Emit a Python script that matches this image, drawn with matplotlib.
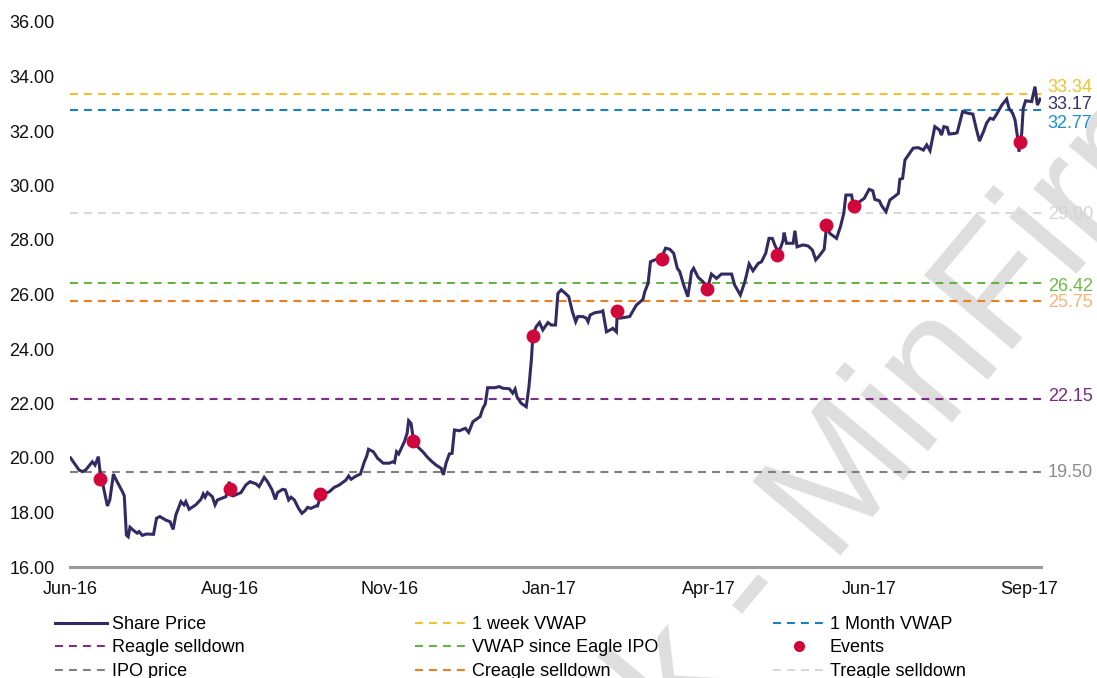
import matplotlib
matplotlib.use("Agg")
import matplotlib.pyplot as plt
from matplotlib.lines import Line2D

plt.rcParams["font.family"] = ["Liberation Sans", "DejaVu Sans"]

# share price, x = trading day index from the start of Jun-16
price_day = [0.2, 3.0, 4.1, 5.2, 7.4, 8.3, 9.4, 9.9, 10.7, 12.4, 13.2, 14.4, 15.2, 17.4, 18.0,
             18.7, 19.3, 19.9, 21.2, 22.3, 22.9, 24.0, 25.3, 27.7, 28.7, 29.8, 31.8, 33.2, 34.2,
             35.1, 36.8, 37.8, 38.4, 39.5, 41.7, 43.4, 44.2, 44.8, 45.6, 47.2, 48.1, 48.9, 51.7,
             52.8, 53.4, 54.1, 56.7, 58.3, 59.7, 61.7, 62.7, 64.4, 65.5, 67.0, 68.1, 68.8, 70.5,
             71.4, 72.5, 73.3, 74.4, 75.8, 76.9, 78.0, 78.8, 79.9, 81.6, 82.1, 82.7, 84.3, 86.0,
             87.6, 89.3, 91.5, 92.4, 93.2, 94.9, 96.3, 97.6, 98.4, 99.0, 100.6, 102.0, 103.9,
             105.9, 107.0, 107.6, 108.3, 109.0, 110.9, 111.8, 112.3, 113.1, 113.9, 115.3, 117.0,
             118.6, 120.1, 121.4, 123.1, 123.8, 124.7, 125.8, 126.7, 127.5, 129.1, 131.1, 132.2,
             133.6, 135.2, 136.0, 136.9, 137.7, 138.5, 140.8, 142.4, 143.5, 145.7, 146.8, 147.6,
             148.2, 149.6, 151.3, 152.2, 153.0, 153.5, 154.6, 155.7, 156.8, 158.5, 159.6, 161.0,
             161.8, 162.9, 164.3, 165.4, 166.6, 167.7, 168.4, 170.1, 171.2, 171.8, 172.5, 174.0,
             176.2, 176.7, 177.9, 179.5, 180.0, 181.2, 181.4, 182.3, 185.6, 187.8, 190.0, 190.6,
             191.7, 192.5, 193.9, 196.1, 197.5, 198.9, 200.2, 201.4, 202.2, 203.5, 204.9, 206.1,
             206.8, 208.3, 209.9, 211.4, 212.7, 214.4, 216.0, 219.4, 220.4, 222.3, 223.8, 225.2,
             226.5, 228.2, 229.3, 230.7, 231.8, 232.9, 233.7, 234.5, 235.6, 236.5, 236.8, 237.6,
             239.8, 240.4, 241.1, 243.1, 244.8, 246.2, 247.3, 248.7, 250.1, 250.9, 252.0, 254.2,
             255.5, 256.6, 257.3, 259.2, 259.7, 261.9, 263.4, 265.0, 266.2, 266.9, 268.4, 269.2,
             270.6, 271.9, 273.6, 274.7, 275.2, 276.1, 276.9, 278.3, 279.6, 281.3, 283.0, 284.1,
             285.2, 286.8, 288.3, 289.0, 289.8, 290.9, 291.5, 293.5, 294.2, 296.0, 297.9, 299.4,
             300.5, 301.6, 302.9, 304.0, 305.1, 306.2, 307.3, 309.0, 310.6, 311.4, 312.6, 313.4,
             314.2, 314.7, 315.6, 316.1, 316.9, 318.9, 320.0, 320.8, 321.7]
price = [20.00, 19.56, 19.50, 19.56, 19.86, 19.74, 20.05, 19.56, 19.13, 18.24, 18.46, 19.41, 19.22,
         18.76, 18.61, 17.17, 17.11, 17.46, 17.33, 17.24, 17.30, 17.16, 17.21, 17.20, 17.79, 17.85,
         17.72, 17.66, 17.38, 17.91, 18.40, 18.28, 18.40, 18.12, 18.28, 18.48, 18.68, 18.56, 18.73,
         18.58, 18.28, 18.46, 18.58, 19.13, 18.64, 18.61, 18.73, 19.01, 19.13, 19.05, 18.95, 19.29,
         19.13, 18.83, 18.48, 18.73, 18.85, 18.83, 18.46, 18.56, 18.46, 18.15, 17.97, 18.07, 18.19,
         18.15, 18.24, 18.24, 18.46, 18.70, 18.76, 18.92, 19.01, 19.19, 19.34, 19.22, 19.34, 19.41,
         19.86, 20.07, 20.32, 20.23, 19.99, 19.81, 19.81, 19.86, 19.83, 20.23, 20.15, 20.60, 20.91,
         21.37, 21.27, 20.66, 20.41, 20.23, 20.02, 19.86, 19.74, 19.62, 19.38, 19.81, 20.15, 20.17,
         21.03, 21.00, 21.09, 20.94, 21.33, 21.46, 21.52, 21.82, 21.98, 22.58, 22.58, 22.62, 22.56,
         22.54, 22.38, 22.53, 22.25, 22.01, 21.88, 22.62, 23.60, 24.51, 24.82, 24.97, 24.70, 24.97,
         24.88, 24.88, 26.04, 26.17, 26.04, 25.92, 25.37, 25.00, 25.19, 25.19, 25.13, 25.00, 25.25,
         25.33, 25.37, 25.40, 24.63, 24.72, 24.76, 24.63, 25.19, 25.13, 25.19, 25.61, 25.82, 26.10,
         26.41, 27.20, 27.27, 27.33, 27.70, 27.66, 27.51, 26.96, 26.84, 26.35, 25.92, 26.84, 26.96,
         26.63, 26.47, 26.23, 26.75, 26.59, 26.75, 26.75, 26.35, 25.98, 26.47, 27.12, 26.87, 27.14,
         27.20, 27.51, 28.06, 28.06, 27.82, 27.63, 27.70, 28.00, 28.27, 27.88, 27.88, 28.34, 27.75,
         27.82, 27.78, 27.63, 27.27, 27.45, 27.66, 28.51, 28.24, 28.06, 28.49, 28.98, 29.65, 29.65,
         29.28, 29.41, 29.53, 29.86, 29.81, 29.49, 29.44, 29.25, 29.04, 29.47, 29.61, 29.71, 30.23,
         30.26, 30.94, 31.16, 31.37, 31.39, 31.30, 31.49, 31.28, 32.16, 32.04, 31.85, 32.16, 32.13,
         31.89, 31.91, 31.94, 32.71, 32.65, 32.62, 32.10, 31.63, 31.97, 32.30, 32.47, 32.43, 32.62,
         32.95, 33.17, 32.83, 32.65, 32.40, 31.79, 31.24, 31.91, 32.83, 33.11, 33.08, 33.63, 32.95,
         33.17]

event_day = [10.1, 53.1, 82.9, 113.9, 153.5, 181.5, 196.4, 211.4, 234.6, 250.7, 260.1, 315.1]
event_price = [19.22, 18.85, 18.68, 20.62, 24.48, 25.39, 27.29, 26.19, 27.45, 28.55, 29.25, 31.61]

tick_day = [0, 53, 106, 159, 212, 265, 318]
tick_labels = ["Jun-16", "Aug-16", "Nov-16", "Jan-17", "Apr-17", "Jun-17", "Sep-17"]

# reference levels
level_names = ["1 week VWAP", "1 Month VWAP", "Reagle selldown", "VWAP since Eagle IPO",
               "IPO price", "Creagle selldown", "Treagle selldown"]
level_values = [33.34, 32.77, 22.15, 26.42, 19.50, 25.75, 29.00]
level_colors = ["#f4c12e", "#1a80c4", "#7e2c86", "#63b445", "#808080", "#ee7d1c", "#d9d9d9"]

# right hand labels (last price + levels)
label_text = ["33.34", "33.17", "32.77", "29.00", "26.42", "25.75", "22.15", "19.50"]
label_y = [33.61, 32.99, 32.26, 28.95, 26.31, 25.69, 22.24, 19.45]
label_colors = ["#f2c12e", "#3b3168", "#1a8fd0", "#d4d4d4", "#6dbb4a", "#f9b27a", "#7b2a7f", "#8c8c8c"]

navy = "#342a63"
red = "#d1063b"

fig = plt.figure(figsize=(10.97, 6.78), dpi=100)
ax = fig.add_axes([70 / 1097, 1 - 567 / 678, 971 / 1097, 545 / 678])
ax.patch.set_alpha(0)

dash = (0, (3.8, 2.9))
lev_handles = {}
for name, val, col in zip(level_names, level_values, level_colors):
    ax.axhline(val, color=col, lw=1.5, ls=dash, zorder=2)
    lev_handles[name] = Line2D([], [], color=col, lw=1.5, ls=dash)

ax.plot(price_day, price, color=navy, lw=2.2, zorder=3, solid_joinstyle="miter")
ax.plot(event_day, event_price, "o", color=red, ms=10, mec="none", zorder=4)

for t, yv, c in zip(label_text, label_y, label_colors):
    ax.text(1.007, yv, t, transform=ax.get_yaxis_transform(), color=c, fontsize=13,
            va="center", ha="left", clip_on=False)

ax.set_xlim(0, 322)
ax.set_ylim(16, 36)
ax.set_yticks([16, 18, 20, 22, 24, 26, 28, 30, 32, 34, 36])
ax.set_yticklabels(["%.2f" % v for v in ax.get_yticks()])
ax.set_xticks(tick_day)
ax.set_xticklabels(tick_labels)
ax.tick_params(length=0, labelsize=13, labelcolor="#111111")
ax.tick_params(axis="y", pad=11)
ax.tick_params(axis="x", pad=10)
for s in ["top", "right", "left"]:
    ax.spines[s].set_visible(False)
ax.spines["bottom"].set_color("#999999")
ax.spines["bottom"].set_linewidth(2.2)
ax.spines["bottom"].set_zorder(5)

# watermark, behind everything
fig.text(0.826, 0.395, "lk - MinFirm", fontsize=120, color="#dedede", rotation=50,
         ha="center", va="center", rotation_mode="anchor", zorder=-1)

share_h = Line2D([], [], color=navy, lw=2.2)
event_h = Line2D([], [], color=red, marker="o", ls="none", ms=8, mec="none")
columns = [
    ([share_h, lev_handles["Reagle selldown"], lev_handles["IPO price"]],
     ["Share Price", "Reagle selldown", "IPO price"], 55),
    ([lev_handles["1 week VWAP"], lev_handles["VWAP since Eagle IPO"], lev_handles["Creagle selldown"]],
     ["1 week VWAP", "VWAP since Eagle IPO", "Creagle selldown"], 415),
    ([lev_handles["1 Month VWAP"], event_h, lev_handles["Treagle selldown"]],
     ["1 Month VWAP", "Events", "Treagle selldown"], 773),
]
for hs, ls, xpx in columns:
    fig.legend(hs, ls, loc="upper left", bbox_to_anchor=(xpx / 1097, 1 - 616 / 678),
               frameon=False, borderpad=0, borderaxespad=0, handlelength=2.9,
               handletextpad=0.25, labelspacing=0.36, fontsize=13)

fig.savefig("out.png", dpi=100)
